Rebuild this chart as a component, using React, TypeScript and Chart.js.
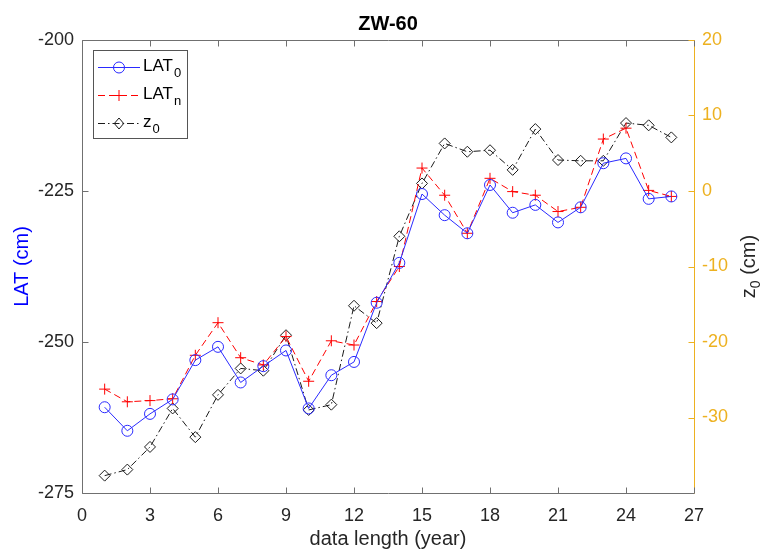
import React, { useEffect, useRef } from 'react';
import { Chart, registerables } from 'chart.js';

Chart.register(...registerables);

// ---- data ----
const years = [1, 2, 3, 4, 5, 6, 7, 8, 9, 10, 11, 12, 13, 14, 15, 16, 17, 18, 19, 20, 21, 22, 23, 24, 25, 26];
const lat0 = [-260.8, -264.7, -261.9, -259.5, -253.0, -250.8, -256.7, -254.0, -251.4, -261.0, -255.5, -253.3, -243.5, -236.9, -225.5, -229.0, -232.0, -224.0, -228.6, -227.3, -230.2, -227.7, -220.4, -219.6, -226.3, -225.9];
const latn = [-257.8, -259.9, -259.7, -259.4, -252.2, -246.8, -252.6, -253.8, -249.1, -256.5, -249.8, -250.5, -243.3, -237.5, -221.2, -225.7, -232.0, -222.9, -225.1, -225.7, -228.4, -227.7, -216.4, -214.6, -224.9, -225.9];
const z0 = [-37.7, -36.9, -33.9, -28.8, -32.6, -27.0, -23.5, -23.8, -19.1, -29.0, -28.3, -15.2, -17.5, -6.0, 1.0, 6.3, 5.2, 5.4, 2.8, 8.2, 4.1, 4.0, 4.0, 9.0, 8.7, 7.1];

const xTicks = [0, 3, 6, 9, 12, 15, 18, 21, 24, 27];
const latTicks = [-200, -225, -250, -275];
const zTicks = [20, 10, 0, -10, -20, -30];

const chartTitle = 'ZW-60';
const xLabel = 'data length (year)';
const leftLabel = 'LAT (cm)';
const rightLabel = ['z', '0', ' (cm)'];
const legendItems = [
  ['LAT', '0'],
  ['LAT', 'n'],
  ['z', '0'],
];

// ---- styles ----
const FONT = '"Liberation Sans", Arial, Helvetica, sans-serif';
const AXIS = '#707070';
const TEXT = '#262626';
const RIGHT = '#EDB120';
const BLUE = '#2a2aff';
const RED = '#ff0000';
const BLACK = '#1a1a1a';

function drawMarker(ctx: CanvasRenderingContext2D, kind: string, x: number, y: number, r: number, color: string) {
  ctx.save();
  ctx.setLineDash([]);
  ctx.strokeStyle = color;
  ctx.lineWidth = 1;
  ctx.beginPath();
  if (kind === 'circle') {
    ctx.arc(x, y, r, 0, Math.PI * 2);
  } else if (kind === 'cross') {
    ctx.moveTo(x - r, y); ctx.lineTo(x + r, y);
    ctx.moveTo(x, y - r); ctx.lineTo(x, y + r);
  } else {
    ctx.moveTo(x, y - r); ctx.lineTo(x + r * 0.85, y); ctx.lineTo(x, y + r); ctx.lineTo(x - r * 0.85, y); ctx.closePath();
  }
  ctx.stroke();
  ctx.restore();
}

const overlay = {
  id: 'overlay',
  afterDraw(chart: any) {
    const { ctx, chartArea: a, scales } = chart;
    const L = Math.round(a.left) + 0.5;
    const R = Math.round(a.right) + 0.5;
    const T = Math.round(a.top) + 0.5;
    const B = Math.round(a.bottom) + 0.5;
    ctx.save();
    ctx.lineWidth = 1;
    ctx.setLineDash([]);
    const ln = (x1: number, y1: number, x2: number, y2: number) => {
      ctx.beginPath(); ctx.moveTo(x1, y1); ctx.lineTo(x2, y2); ctx.stroke();
    };
    // box
    ctx.strokeStyle = AXIS;
    ln(L, T, R, T);
    ln(L, B, R, B);
    ln(L, T, L, B);
    ctx.strokeStyle = RIGHT;
    ln(R, T, R, B);
    // x ticks (bottom & top, inward)
    ctx.strokeStyle = AXIS;
    const tl = 6;
    xTicks.forEach((v) => {
      const px = Math.round(scales.x.getPixelForValue(v)) + 0.5;
      ln(px, B, px, B - tl);
      ln(px, T, px, T + tl);
    });
    latTicks.forEach((v) => {
      const py = Math.round(scales.y.getPixelForValue(v)) + 0.5;
      ln(L, py, L + tl, py);
    });
    ctx.strokeStyle = RIGHT;
    zTicks.forEach((v) => {
      const py = Math.round(scales.y1.getPixelForValue(v)) + 0.5;
      ln(R, py, R - tl, py);
    });

    // title
    ctx.fillStyle = '#000';
    ctx.font = `bold 20px ${FONT}`;
    ctx.textAlign = 'center';
    ctx.textBaseline = 'middle';
    ctx.fillText(chartTitle, (a.left + a.right) / 2, 24);

    // x label
    ctx.fillStyle = TEXT;
    ctx.font = `20px ${FONT}`;
    ctx.fillText(xLabel, (a.left + a.right) / 2, 539);

    // left label
    const cy = (a.top + a.bottom) / 2;
    ctx.save();
    ctx.translate(22, cy);
    ctx.rotate(-Math.PI / 2);
    ctx.fillStyle = '#0000ff';
    ctx.font = `20px ${FONT}`;
    ctx.textAlign = 'center';
    ctx.fillText(leftLabel, 0, 0);
    ctx.restore();

    // right label with subscript
    ctx.save();
    ctx.translate(748, cy);
    ctx.rotate(-Math.PI / 2);
    ctx.fillStyle = TEXT;
    ctx.textBaseline = 'alphabetic';
    ctx.textAlign = 'left';
    const bigF = `20px ${FONT}`;
    const subF = `14px ${FONT}`;
    ctx.font = bigF;
    const w1 = ctx.measureText(rightLabel[0]).width;
    ctx.font = subF;
    const w2 = ctx.measureText(rightLabel[1]).width;
    ctx.font = bigF;
    const w3 = ctx.measureText(rightLabel[2]).width;
    let sx = -(w1 + w2 + w3) / 2;
    const base = 7;
    ctx.font = bigF; ctx.fillText(rightLabel[0], sx, base); sx += w1;
    ctx.font = subF; ctx.fillText(rightLabel[1], sx, base + 5); sx += w2;
    ctx.font = bigF; ctx.fillText(rightLabel[2], sx, base);
    ctx.restore();

    // legend
    const bx = 93.5, by = 50.5, bw = 94, bh = 88;
    ctx.fillStyle = '#fff';
    ctx.fillRect(bx, by, bw, bh);
    ctx.strokeStyle = '#555';
    ctx.strokeRect(bx, by, bw, bh);
    const styles = [
      { color: BLUE, dash: [] as number[], marker: 'circle' },
      { color: RED, dash: [7, 4], marker: 'cross' },
      { color: BLACK, dash: [7, 3, 1.5, 3], marker: 'diamond' },
    ];
    legendItems.forEach((item, i) => {
      const y = 67 + i * 28;
      const st = styles[i];
      ctx.save();
      ctx.strokeStyle = st.color;
      ctx.setLineDash(st.dash);
      ctx.beginPath(); ctx.moveTo(98, y + 0.5); ctx.lineTo(140, y + 0.5); ctx.stroke();
      ctx.restore();
      drawMarker(ctx, st.marker, 119, y + 0.5, 5.5, st.color);
      ctx.fillStyle = '#000';
      ctx.textAlign = 'left';
      ctx.textBaseline = 'alphabetic';
      ctx.font = `17px ${FONT}`;
      ctx.fillText(item[0], 143, y + 4);
      const w = ctx.measureText(item[0]).width;
      ctx.font = `13px ${FONT}`;
      ctx.fillText(item[1], 143 + w + 1, y + 10);
    });
    ctx.restore();
  },
};

export default function App() {
  const ref = useRef<HTMLCanvasElement | null>(null);
  useEffect(() => {
    if (!ref.current) return;
    const mk = (arr: number[]) => years.map((x, i) => ({ x, y: arr[i] }));
    const chart = new Chart(ref.current, {
      type: 'line',
      data: {
        datasets: [
          {
            label: 'LAT0',
            data: mk(lat0),
            yAxisID: 'y',
            borderColor: BLUE,
            borderWidth: 1,
            pointStyle: 'circle',
            pointRadius: 5.5,
            pointBorderColor: BLUE,
            pointBackgroundColor: 'rgba(0,0,0,0)',
            pointBorderWidth: 1,
            tension: 0,
          },
          {
            label: 'LATn',
            data: mk(latn),
            yAxisID: 'y',
            borderColor: RED,
            borderWidth: 1,
            borderDash: [7, 4],
            pointStyle: 'cross',
            pointRadius: 5.5,
            pointBorderColor: RED,
            pointBorderWidth: 1,
            tension: 0,
          },
          {
            label: 'z0',
            data: mk(z0),
            yAxisID: 'y1',
            borderColor: BLACK,
            borderWidth: 1,
            borderDash: [7, 3, 1.5, 3],
            pointStyle: 'rectRot',
            pointRadius: 5.5,
            pointBorderColor: BLACK,
            pointBackgroundColor: 'rgba(0,0,0,0)',
            pointBorderWidth: 1,
            tension: 0,
          },
        ],
      },
      options: {
        responsive: false,
        animation: false,
        events: [],
        layout: { padding: { top: 40, left: 0, right: 0, bottom: 0 } },
        plugins: { legend: { display: false }, title: { display: false }, tooltip: { enabled: false } },
        scales: {
          x: {
            type: 'linear',
            min: 0,
            max: 27,
            grid: { display: false, drawTicks: false },
            border: { display: false },
            afterBuildTicks: (s: any) => { s.ticks = xTicks.map((v) => ({ value: v })); },
            afterFit: (s: any) => { s.height = 56; },
            ticks: { padding: 12, color: TEXT, font: { family: FONT, size: 18 }, maxRotation: 0, autoSkip: false },
          },
          y: {
            type: 'linear',
            position: 'left',
            min: -275,
            max: -200,
            grid: { display: false, drawTicks: false },
            border: { display: false },
            afterBuildTicks: (s: any) => { s.ticks = latTicks.map((v) => ({ value: v })); },
            afterFit: (s: any) => { s.width = 82; },
            ticks: { padding: 8, color: TEXT, font: { family: FONT, size: 18 }, autoSkip: false },
          },
          y1: {
            type: 'linear',
            position: 'right',
            min: -40,
            max: 20,
            grid: { display: false, drawTicks: false },
            border: { display: false },
            afterBuildTicks: (s: any) => { s.ticks = zTicks.map((v) => ({ value: v })); },
            afterFit: (s: any) => { s.width = 70; },
            ticks: { padding: 8, color: RIGHT, font: { family: FONT, size: 18 }, autoSkip: false },
          },
        },
      },
      plugins: [overlay],
    });
    return () => chart.destroy();
  }, []);
  return (
    <div style={{ position: 'absolute', left: 0, top: 0, width: 764, height: 549, background: '#fff' }}>
      <canvas ref={ref} width={764} height={549} style={{ width: 764, height: 549, display: 'block' }} />
    </div>
  );
}
